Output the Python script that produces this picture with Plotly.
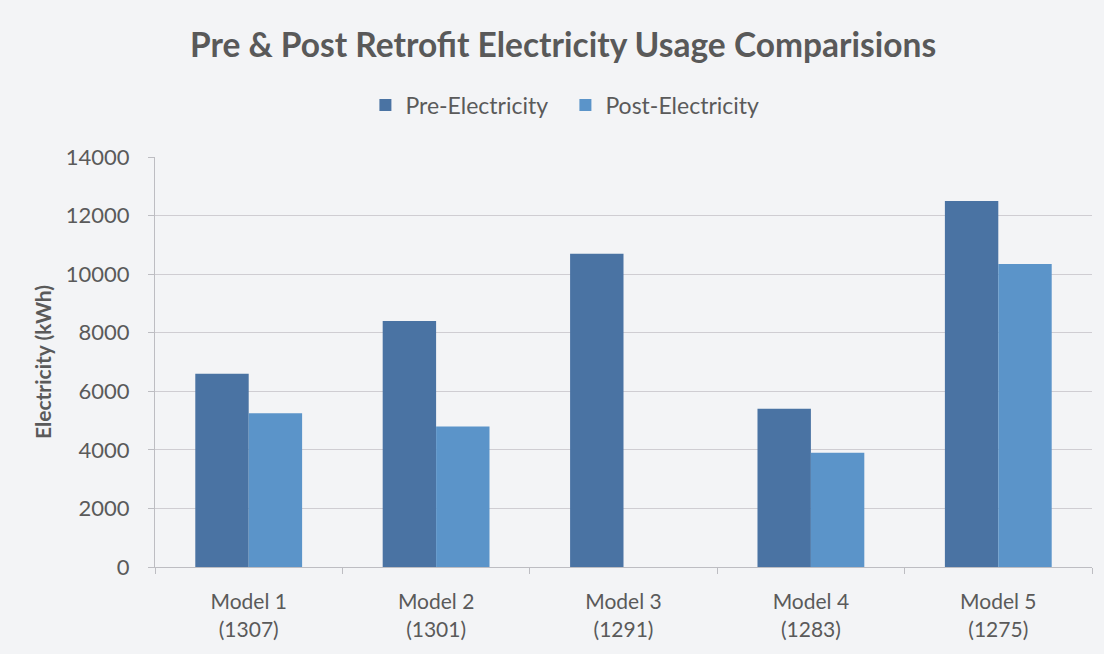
import plotly.graph_objects as go

categories = ["Model 1<br>(1307)", "Model 2<br>(1301)", "Model 3<br>(1291)", "Model 4<br>(1283)", "Model 5<br>(1275)"]
pre_electricity = [6600, 8400, 10700, 5400, 12500]
post_electricity = [5250, 4800, 0, 3900, 10350]

font_family = "Lato, 'Open Sans', sans-serif"
text_color = "#5a5a5a"

fig = go.Figure()
fig.add_trace(go.Bar(name="Pre-Electricity", x=categories, y=pre_electricity,
                     marker=dict(color="#4a73a3", line=dict(width=0))))
fig.add_trace(go.Bar(name="Post-Electricity", x=categories, y=post_electricity,
                     marker=dict(color="#5b94c9", line=dict(width=0))))

fig.update_layout(
    width=1104, height=654,
    paper_bgcolor="#f3f4f6", plot_bgcolor="#f3f4f6",
    margin=dict(l=155, r=12, t=157, b=87),
    barmode="group", bargap=0.43, bargroupgap=0,
    font=dict(family=font_family, color=text_color, size=20),
    title=dict(text="<b>Pre & Post Retrofit Electricity Usage Comparisions</b>",
               x=0.51, xanchor="center", y=0.931, yanchor="middle",
               font=dict(size=33.5, color="#595959", family=font_family)),
    legend=dict(orientation="h", x=0.438, xanchor="center", y=1.127, yanchor="middle",
                font=dict(size=23, color=text_color), bgcolor="rgba(0,0,0,0)",
                itemwidth=30, traceorder="normal", entrywidth=155, entrywidthmode="pixels"),
    showlegend=True,
)
fig.update_yaxes(range=[0, 14000], dtick=2000, tickformat="d", showgrid=True, gridcolor="#cfcdd2", gridwidth=1.3,
                 zeroline=False, showline=True, linecolor="#bdbdc2", linewidth=1,
                 ticks="outside", ticklen=6, tickcolor="#bdbdc2", ticklabelstandoff=14,
                 title=dict(text="<b>Electricity (kWh)</b>", font=dict(size=21, color=text_color), standoff=8),
                 tickfont=dict(size=22, color=text_color))
fig.update_xaxes(showline=True, linecolor="#bdbdc2", linewidth=1.3, ticks="outside", tickson="boundaries",
                 ticklen=6, tickcolor="#bdbdc2", ticklabelstandoff=16, tickfont=dict(size=21, color=text_color))

fig.write_html("out.html")
